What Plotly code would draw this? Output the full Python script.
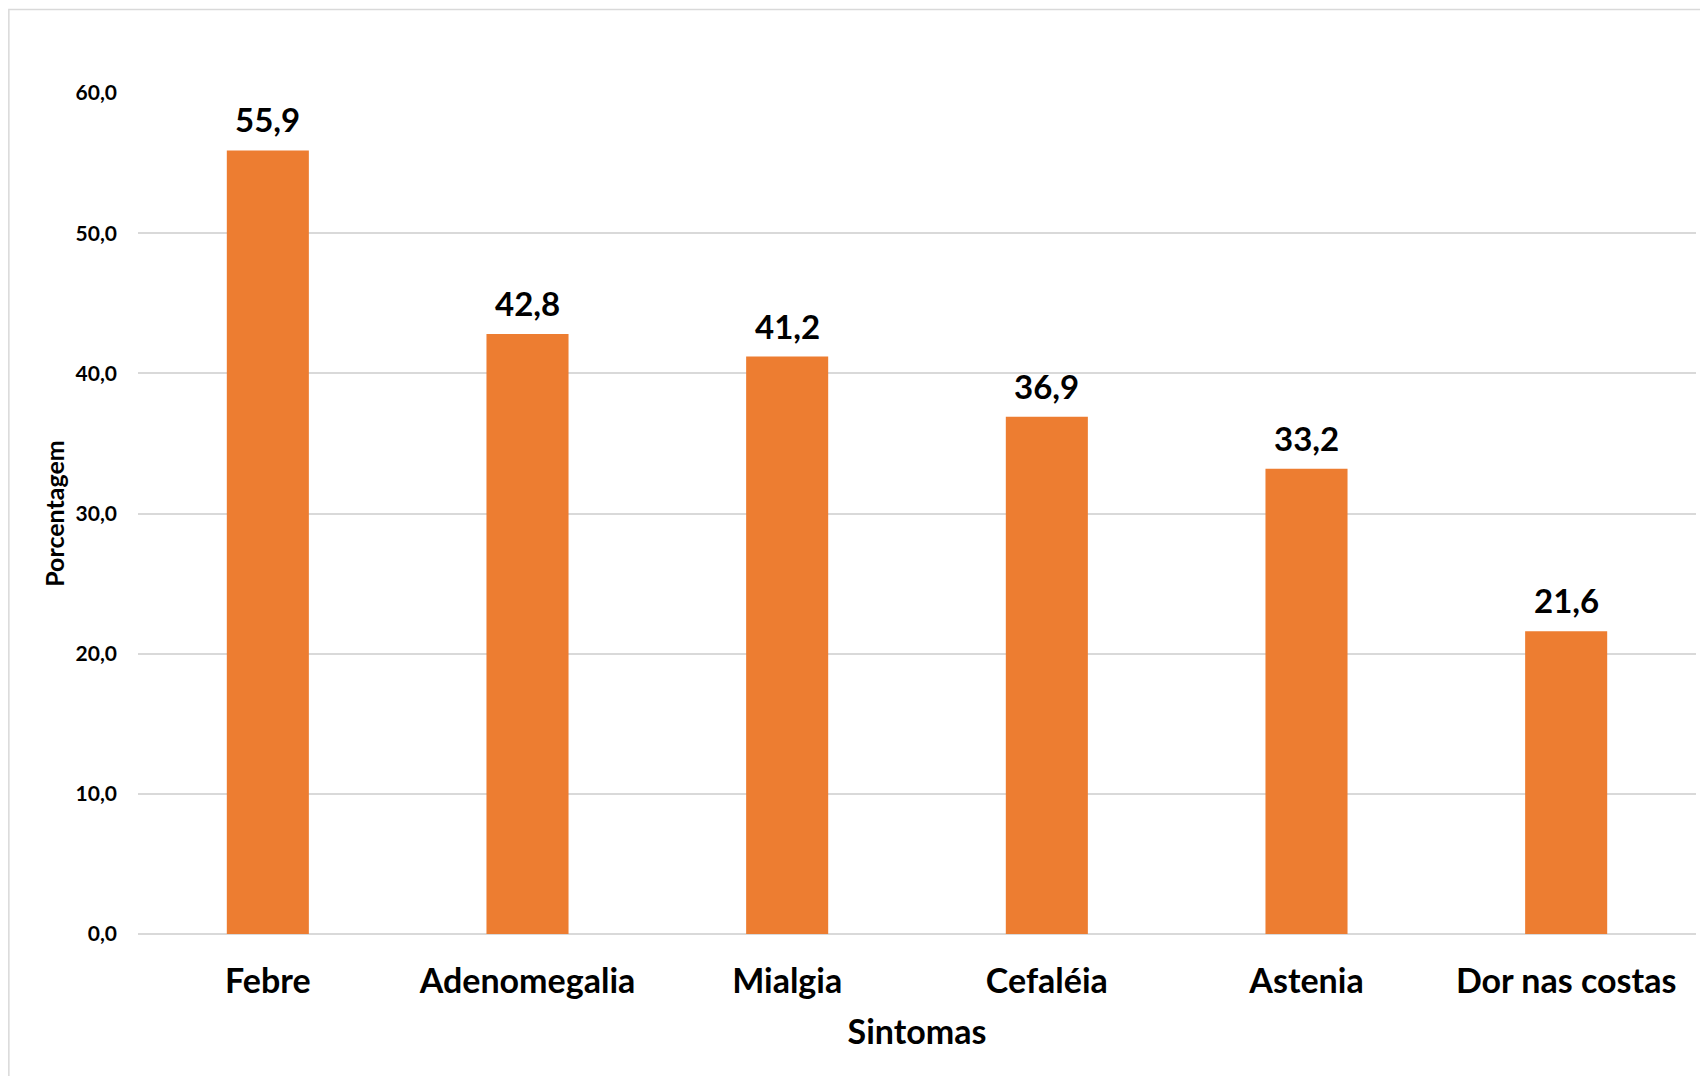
import plotly.graph_objects as go

# Sintomas e porcentagens
sintomas = ['Febre', 'Adenomegalia', 'Mialgia', 'Cefaléia', 'Astenia', 'Dor nas costas']
porcentagem = [55.9, 42.8, 41.2, 36.9, 33.2, 21.6]
y_ticks = [0, 10, 20, 30, 40, 50, 60]

BAR_COLOR = '#ED7D31'
GRID_COLOR = '#D9D9D9'
FONT = 'Lato'

fig = go.Figure()

fig.add_trace(go.Bar(
    x=sintomas,
    y=porcentagem,
    marker=dict(color=BAR_COLOR, line=dict(width=0)),
    hoverinfo='skip',
))

# Rótulos de valor acima das barras
for s, v in zip(sintomas, porcentagem):
    fig.add_annotation(
        x=s, y=v,
        text=f'{v:.1f}'.replace('.', ','),
        showarrow=False,
        yanchor='bottom',
        yshift=9,
        font=dict(family=FONT, size=33, color='#000000', weight='bold'),
    )

# Borda externa do gráfico
fig.add_shape(
    type='rect', xref='paper', yref='paper',
    x0=-0.0829, x1=1.03, y0=-0.2, y1=1.0993,
    line=dict(color=GRID_COLOR, width=1.5),
    fillcolor='rgba(0,0,0,0)',
    layer='below',
)

fig.update_layout(
    width=1708,
    height=1076,
    margin=dict(l=130, r=20, t=85, b=150),
    paper_bgcolor='#FFFFFF',
    plot_bgcolor='#FFFFFF',
    separators=',.',
    bargap=0.684,
    showlegend=False,
    xaxis=dict(
        tickfont=dict(family=FONT, size=34, color='#000000', weight='bold'),
        showline=False,
        ticks='',
        ticklabelstandoff=24,
        title=dict(
            text='Sintomas',
            font=dict(family=FONT, size=34, color='#000000', weight='bold'),
            standoff=21,
        ),
    ),
    yaxis=dict(
        range=[0, 60],
        tickvals=y_ticks,
        tickformat='.1f',
        tickfont=dict(family=FONT, size=21, color='#000000', weight='bold'),
        gridcolor=GRID_COLOR,
        gridwidth=1.5,
        zeroline=True,
        zerolinecolor=GRID_COLOR,
        zerolinewidth=1.5,
        showline=False,
        ticks='',
        ticklabelstandoff=20,
        title=dict(
            text='Porcentagem',
            font=dict(family=FONT, size=25, color='#000000', weight='bold'),
            standoff=3,
        ),
    ),
)

fig.write_html('out.html')
